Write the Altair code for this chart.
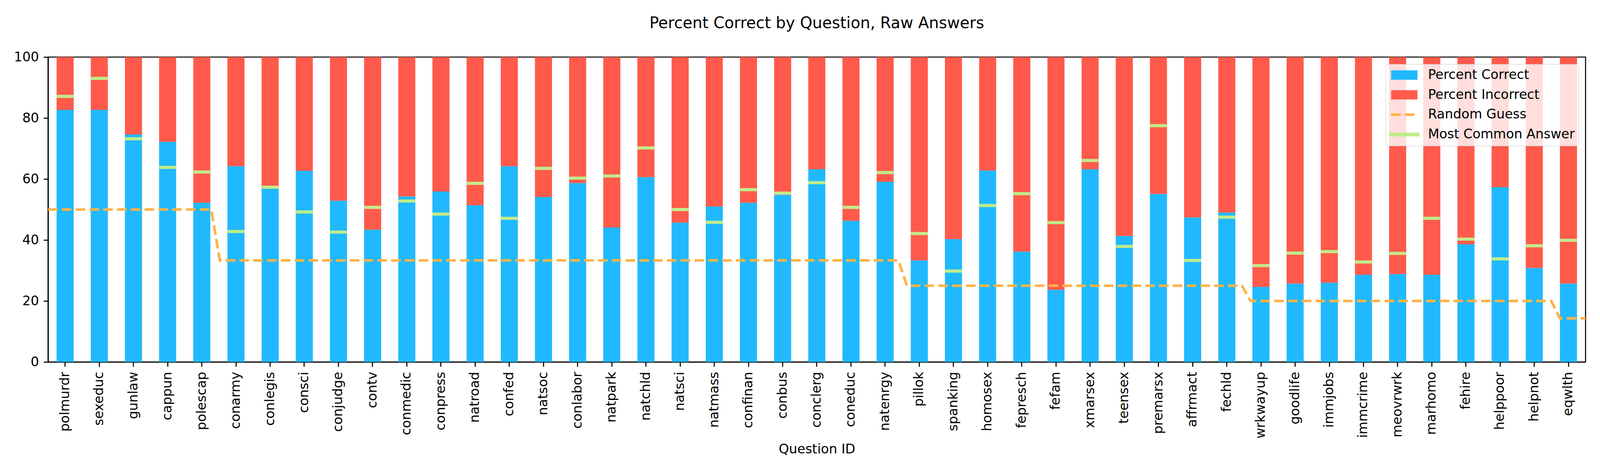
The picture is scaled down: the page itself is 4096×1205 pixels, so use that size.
import altair as alt
import numpy as np
import pandas as pd

# ---------------- data ----------------
questions = [
    "polmurdr", "sexeduc", "gunlaw", "cappun", "polescap", "conarmy", "conlegis",
    "consci", "conjudge", "contv", "conmedic", "conpress", "natroad", "confed",
    "natsoc", "conlabor", "natpark", "natchld", "natsci", "natmass", "confinan",
    "conbus", "conclerg", "coneduc", "natenrgy", "pillok", "spanking", "homosex",
    "fepresch", "fefam", "xmarsex", "teensex", "premarsx", "affrmact", "fechld",
    "wrkwayup", "goodlife", "immjobs", "immcrime", "meovrwrk", "marhomo", "fehire",
    "helppoor", "helpnot", "eqwlth",
]
pct_correct = [
    82.7, 82.7, 74.6, 72.2, 52.2, 64.2, 56.8, 62.7, 52.9, 43.4, 54.3, 55.9,
    51.4, 64.2, 54.1, 58.7, 44.1, 60.6, 45.7, 51.0, 52.2, 54.8, 63.2, 46.3,
    59.1, 33.3, 40.3, 62.8, 36.2, 23.7, 63.2, 41.3, 55.1, 47.4, 49.0, 24.6,
    25.7, 26.0, 28.6, 28.8, 28.6, 38.6, 57.3, 30.8, 25.7,
]
most_common = [
    87.1, 93.0, 73.2, 63.8, 62.3, 42.8, 57.3, 49.2, 42.6, 50.7, 52.8, 48.5,
    58.6, 47.1, 63.5, 60.3, 61.0, 70.2, 50.0, 45.8, 56.5, 55.4, 58.8, 50.7,
    62.1, 42.1, 29.8, 51.3, 55.2, 45.7, 66.1, 37.9, 77.5, 33.3, 47.5, 31.6,
    35.7, 36.2, 32.8, 35.6, 47.1, 40.3, 33.8, 38.1, 39.9,
]
random_guess = [
    50, 50, 50, 50, 50,
    33.3, 33.3, 33.3, 33.3, 33.3, 33.3, 33.3, 33.3, 33.3, 33.3,
    33.3, 33.3, 33.3, 33.3, 33.3, 33.3, 33.3, 33.3, 33.3, 33.3,
    25, 25, 25, 25, 25, 25, 25, 25, 25, 25,
    20, 20, 20, 20, 20, 20, 20, 20, 20,
    14.3,
]
legend_labels = ["Percent Correct", "Percent Incorrect", "Random Guess", "Most Common Answer"]

# ---------------- styling ----------------
BLUE = "#20b9ff"
RED = "#ff5a4b"
ORANGE = "#ffb347"
GREEN = "#c1ec8a"
legend_colors = [BLUE, RED, ORANGE, GREEN]
legend_shapes = [
    "M-0.865,-0.305H0.865V0.305H-0.865Z",
    "M-0.865,-0.305H0.865V0.305H-0.865Z",
    "M-0.865,-0.086H-0.234V0.086H-0.865Z M0.040,-0.086H0.671V0.086H0.040Z",
    "M-1,-0.127H1V0.127H-1Z",
]

FONT = "DejaVu Sans"
W, H = 3936, 780
n = len(questions)
step = W / n

bars = pd.DataFrame({
    "Question": questions,
    "correct": pct_correct,
    "hundred": [100] * n,
    "common": most_common,
})
# guess line drawn as in the original: 4 points per question, spread evenly over the axis
line_df = pd.DataFrame({
    "pos": np.linspace(-0.5, n - 0.5, 4 * n),
    "guess": np.repeat(random_guess, 4),
})
legend_df = pd.DataFrame({"Series": legend_labels})

yscale = alt.Scale(domain=[0, 100], nice=False, zero=True)
yaxis = alt.Axis(title=None, values=[0, 20, 40, 60, 80, 100], grid=False)
bandscale = alt.Scale(paddingInner=0.5, paddingOuter=0.25)

xband = alt.X(
    "Question:N",
    sort=questions,
    scale=bandscale,
    axis=alt.Axis(
        title="Question ID",
        labelAngle=-90,
        labelPadding=13,
        titlePadding=12,
        labelLimit=1000,
    ),
)
xband_noaxis = alt.X("Question:N", sort=questions, scale=bandscale, axis=None)

blue = alt.Chart(bars).mark_bar(color=BLUE).encode(
    x=xband,
    y=alt.Y("correct:Q", scale=yscale, axis=yaxis),
)
red = alt.Chart(bars).mark_bar(color=RED).encode(
    x=xband_noaxis,
    y=alt.Y("correct:Q", scale=yscale, axis=yaxis),
    y2="hundred:Q",
)
guess_line = alt.Chart(line_df).mark_line(
    color=ORANGE, strokeWidth=6.7, strokeDash=[24.6, 10.7]
).encode(
    x=alt.X("pos:Q", scale=alt.Scale(domain=[-0.5, n - 0.5], nice=False, zero=False), axis=None),
    y=alt.Y("guess:Q", scale=yscale, axis=yaxis),
)
common_ticks = alt.Chart(bars).mark_tick(
    color=GREEN, thickness=8, size=step * 0.5, opacity=1, cornerRadius=2
).encode(
    x=xband_noaxis,
    y=alt.Y("common:Q", scale=yscale, axis=yaxis),
)

leg = alt.Legend(
    title=None,
    orient="none",
    legendX=3424,
    legendY=18,
)
legend_layer = alt.Chart(legend_df).mark_point(filled=True, opacity=0).encode(
    color=alt.Color("Series:N", scale=alt.Scale(domain=legend_labels, range=legend_colors), legend=leg),
    shape=alt.Shape("Series:N", scale=alt.Scale(domain=legend_labels, range=legend_shapes), legend=leg),
)

chart = (
    alt.layer(blue, red, guess_line, common_ticks, legend_layer)
    .resolve_scale(x="independent")
    .properties(
        width=W,
        height=H,
        autosize=alt.AutoSizeParams(type="none"),
        padding={"left": 115, "top": 138, "right": 29, "bottom": 271},
        title=alt.TitleParams(
            "Percent Correct by Question, Raw Answers",
            font=FONT,
            fontSize=40.2,
            fontWeight="normal",
            color="black",
            anchor="middle",
            frame="group",
            baseline="alphabetic",
            offset=17,
        ),
    )
    .configure_view(stroke="black", strokeWidth=2.7)
    .configure_axis(
        labelFont=FONT,
        labelFontSize=33.5,
        labelColor="black",
        titleFont=FONT,
        titleFontSize=33.5,
        titleFontWeight="normal",
        titleColor="black",
        domainColor="black",
        domainWidth=2.7,
        tickColor="black",
        tickWidth=2.7,
        tickSize=11.7,
        labelPadding=12,
    )
    .configure_legend(
        labelFont=FONT,
        labelFontSize=33.5,
        labelColor="black",
        labelOffset=21.7,
        labelLimit=1000,
        symbolSize=6084,
        symbolStrokeWidth=0,
        symbolOpacity=1,
        padding=9,
        rowPadding=12.7,
        clipHeight=38,
        fillColor="rgba(255,255,255,0.8)",
        strokeColor="#cccccc",
        cornerRadius=6.7,
    )
)

chart.save("out.html", embed_options={"renderer": "svg", "actions": False})
